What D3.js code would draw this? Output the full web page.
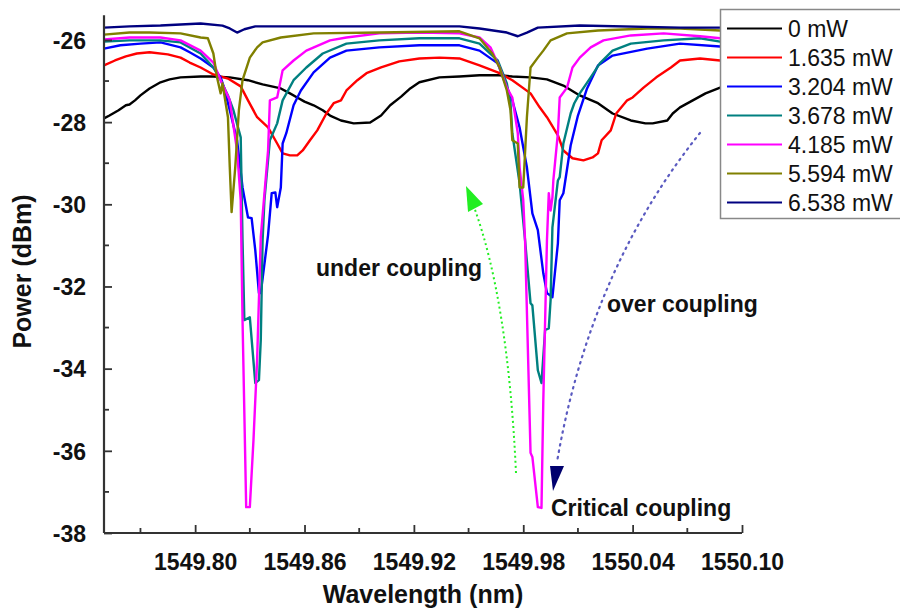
<!DOCTYPE html>
<html><head><meta charset="utf-8">
<script src="https://cdn.jsdelivr.net/npm/d3@7"></script>
<style>
body{margin:0;background:#fff}
svg{display:block}
text{font-family:"Liberation Sans",Arial,Helvetica,sans-serif}
</style>
</head><body>
<svg id="chart" width="900" height="612"></svg>
<script>
// ---------- data ----------
const seriesLabels = ["0 mW","1.635 mW","3.204 mW","3.678 mW","4.185 mW","5.594 mW","6.538 mW"];
const seriesColors = ["#000000","#ff0000","#0000ff","#008080","#ff00ff","#808000","#000080"];

const p0mW = [[1549.750,-27.91],[1549.753,-27.84],[1549.758,-27.71],[1549.762,-27.59],[1549.764,-27.57],[1549.767,-27.47],[1549.770,-27.35],[1549.775,-27.18],[1549.781,-27.03],[1549.786,-26.96],[1549.792,-26.91],[1549.803,-26.89],[1549.810,-26.89],[1549.819,-26.91],[1549.829,-26.98],[1549.837,-27.08],[1549.847,-27.18],[1549.852,-27.30],[1549.856,-27.40],[1549.860,-27.50],[1549.865,-27.59],[1549.870,-27.71],[1549.874,-27.84],[1549.880,-27.96],[1549.887,-28.03],[1549.896,-28.01],[1549.902,-27.84],[1549.907,-27.59],[1549.913,-27.38],[1549.918,-27.18],[1549.923,-27.03],[1549.934,-26.91],[1549.945,-26.89],[1549.956,-26.86],[1549.967,-26.86],[1549.974,-26.89],[1549.984,-26.91],[1549.993,-26.96],[1550.002,-27.11],[1550.011,-27.35],[1550.021,-27.54],[1550.029,-27.79],[1550.039,-27.96],[1550.047,-28.03],[1550.051,-28.03],[1550.059,-27.96],[1550.062,-27.79],[1550.066,-27.64],[1550.073,-27.47],[1550.080,-27.30],[1550.088,-27.16],[1550.100,-26.99]];

const p1635 = [[1549.750,-26.62],[1549.756,-26.50],[1549.762,-26.40],[1549.768,-26.33],[1549.775,-26.30],[1549.785,-26.35],[1549.792,-26.43],[1549.797,-26.55],[1549.803,-26.67],[1549.810,-26.84],[1549.818,-26.94],[1549.825,-27.13],[1549.829,-27.47],[1549.834,-27.88],[1549.840,-28.13],[1549.845,-28.52],[1549.848,-28.76],[1549.852,-28.81],[1549.856,-28.81],[1549.859,-28.69],[1549.863,-28.44],[1549.867,-28.20],[1549.872,-27.79],[1549.876,-27.54],[1549.880,-27.47],[1549.883,-27.23],[1549.889,-26.98],[1549.894,-26.81],[1549.902,-26.67],[1549.912,-26.52],[1549.923,-26.45],[1549.934,-26.43],[1549.945,-26.45],[1549.956,-26.62],[1549.966,-26.79],[1549.974,-26.98],[1549.984,-27.30],[1549.989,-27.64],[1549.993,-27.88],[1549.999,-28.32],[1550.002,-28.69],[1550.007,-28.88],[1550.013,-28.93],[1550.018,-28.86],[1550.021,-28.76],[1550.023,-28.44],[1550.028,-28.20],[1550.031,-27.79],[1550.037,-27.47],[1550.040,-27.40],[1550.046,-27.16],[1550.053,-26.91],[1550.061,-26.67],[1550.066,-26.50],[1550.077,-26.45],[1550.088,-26.50],[1550.100,-26.55]];

const p3204 = [[1549.750,-26.21],[1549.759,-26.13],[1549.770,-26.09],[1549.781,-26.06],[1549.792,-26.18],[1549.797,-26.30],[1549.803,-26.45],[1549.810,-26.67],[1549.814,-26.91],[1549.816,-27.18],[1549.819,-27.71],[1549.823,-28.44],[1549.826,-29.59],[1549.829,-30.32],[1549.831,-30.34],[1549.833,-31.12],[1549.835,-32.16],[1549.836,-32.16],[1549.840,-30.75],[1549.842,-29.73],[1549.844,-29.71],[1549.845,-30.07],[1549.847,-29.59],[1549.848,-28.52],[1549.850,-28.27],[1549.854,-27.59],[1549.858,-27.23],[1549.865,-26.79],[1549.874,-26.43],[1549.883,-26.26],[1549.901,-26.18],[1549.923,-26.13],[1549.945,-26.13],[1549.956,-26.26],[1549.966,-26.57],[1549.971,-27.16],[1549.974,-27.47],[1549.978,-28.13],[1549.982,-29.10],[1549.985,-30.22],[1549.988,-30.63],[1549.991,-31.68],[1549.993,-32.16],[1549.996,-32.26],[1549.999,-30.95],[1550.000,-29.90],[1550.002,-29.73],[1550.006,-28.57],[1550.010,-27.84],[1550.015,-27.18],[1550.021,-26.62],[1550.029,-26.38],[1550.048,-26.21],[1550.066,-26.09],[1550.088,-26.16],[1550.100,-26.18]];

const p3678 = [[1549.750,-26.04],[1549.764,-26.01],[1549.781,-26.01],[1549.792,-26.06],[1549.803,-26.33],[1549.810,-26.67],[1549.814,-26.98],[1549.818,-27.35],[1549.821,-27.71],[1549.825,-28.37],[1549.826,-30.88],[1549.827,-32.82],[1549.830,-32.75],[1549.833,-34.35],[1549.835,-34.28],[1549.836,-33.31],[1549.837,-30.88],[1549.838,-29.90],[1549.841,-28.44],[1549.845,-28.03],[1549.848,-27.47],[1549.854,-26.98],[1549.861,-26.67],[1549.870,-26.33],[1549.883,-26.09],[1549.901,-26.01],[1549.923,-25.96],[1549.945,-25.96],[1549.956,-26.09],[1549.966,-26.50],[1549.971,-27.06],[1549.973,-27.54],[1549.974,-28.27],[1549.978,-29.49],[1549.981,-30.88],[1549.984,-32.41],[1549.985,-32.46],[1549.988,-34.04],[1549.990,-34.35],[1549.992,-33.06],[1549.994,-33.02],[1549.995,-32.33],[1549.996,-30.56],[1549.999,-29.42],[1550.000,-29.34],[1550.002,-28.52],[1550.006,-27.79],[1550.008,-27.54],[1550.011,-27.30],[1550.017,-26.91],[1550.022,-26.57],[1550.029,-26.26],[1550.039,-26.09],[1550.057,-26.01],[1550.077,-25.96],[1550.088,-26.04],[1550.100,-26.04]];

const p4185 = [[1549.750,-25.99],[1549.764,-25.94],[1549.781,-25.94],[1549.792,-26.01],[1549.803,-26.26],[1549.810,-26.55],[1549.814,-26.98],[1549.819,-27.47],[1549.823,-28.69],[1549.825,-29.90],[1549.826,-32.82],[1549.828,-37.37],[1549.830,-37.37],[1549.832,-35.74],[1549.834,-33.79],[1549.836,-30.80],[1549.840,-28.69],[1549.841,-27.47],[1549.845,-27.40],[1549.848,-26.74],[1549.854,-26.50],[1549.861,-26.26],[1549.874,-26.01],[1549.883,-25.94],[1549.901,-25.84],[1549.923,-25.82],[1549.945,-25.84],[1549.956,-25.94],[1549.962,-26.18],[1549.967,-26.67],[1549.971,-27.16],[1549.974,-27.40],[1549.977,-28.27],[1549.978,-29.10],[1549.980,-29.90],[1549.981,-30.88],[1549.984,-36.05],[1549.985,-36.15],[1549.988,-37.37],[1549.990,-37.39],[1549.991,-34.77],[1549.993,-30.88],[1549.994,-29.73],[1549.995,-30.15],[1549.996,-29.83],[1549.9965,-29.42],[1549.999,-28.27],[1550.000,-27.40],[1550.004,-27.16],[1550.007,-26.67],[1550.011,-26.43],[1550.017,-26.18],[1550.024,-26.01],[1550.039,-25.89],[1550.057,-25.84],[1550.077,-25.91],[1550.088,-25.96],[1550.100,-25.96]];

const p5594 = [[1549.750,-25.87],[1549.764,-25.82],[1549.775,-25.82],[1549.792,-25.84],[1549.803,-25.94],[1549.807,-25.96],[1549.810,-26.33],[1549.812,-26.91],[1549.814,-27.30],[1549.815,-27.06],[1549.818,-27.88],[1549.819,-29.10],[1549.820,-30.19],[1549.822,-29.10],[1549.824,-27.71],[1549.826,-26.98],[1549.830,-26.43],[1549.834,-26.18],[1549.837,-26.06],[1549.847,-25.94],[1549.865,-25.84],[1549.901,-25.82],[1549.945,-25.79],[1549.956,-25.96],[1549.963,-26.33],[1549.967,-26.67],[1549.971,-27.23],[1549.973,-27.71],[1549.974,-28.44],[1549.977,-28.52],[1549.978,-29.59],[1549.980,-29.59],[1549.982,-27.88],[1549.984,-26.67],[1549.988,-26.43],[1549.991,-26.26],[1549.995,-26.01],[1550.004,-25.84],[1550.021,-25.77],[1550.048,-25.72],[1550.066,-25.72],[1550.088,-25.77],[1550.100,-25.77]];

const p6538 = [[1549.750,-25.70],[1549.764,-25.67],[1549.781,-25.65],[1549.803,-25.60],[1549.815,-25.65],[1549.819,-25.72],[1549.823,-25.82],[1549.827,-25.74],[1549.833,-25.67],[1549.858,-25.67],[1549.901,-25.67],[1549.945,-25.67],[1549.956,-25.72],[1549.971,-25.82],[1549.977,-25.91],[1549.982,-25.82],[1549.988,-25.70],[1550.011,-25.65],[1550.066,-25.70],[1550.100,-25.70]];

const allSeries = [p0mW, p1635, p3204, p3678, p4185, p5594, p6538];

const xMajorTicks = [1549.80, 1549.86, 1549.92, 1549.98, 1550.04, 1550.10];
const xMinorTicks = [1549.77, 1549.83, 1549.89, 1549.95, 1550.01, 1550.07];
const yMajorTicks = [-38, -36, -34, -32, -30, -28, -26];
const yMinorTicks = [-37, -35, -33, -31, -29, -27];

// ---------- drawing ----------
const svg = d3.select("#chart");
const x = d3.scaleLinear().domain([1549.75, 1550.10]).range([104, 742]);
const y = d3.scaleLinear().domain([-38, -25.4]).range([533, 15.3]);

const plot = svg.append("g");
const line = d3.line().x(d => x(d[0])).y(d => y(d[1]));

allSeries.forEach((s, i) => {
  plot.append("path").datum(s)
    .attr("d", line)
    .attr("fill", "none")
    .attr("stroke", seriesColors[i])
    .attr("stroke-width", 2.4)
    .attr("stroke-linejoin", "round");
});

// axes
const axisColor = "#333";
const xAxis = svg.append("g").attr("transform", "translate(0,533)");
xAxis.call(d3.axisBottom(x).tickValues(xMajorTicks).tickSize(-8).tickPadding(12).tickFormat(d3.format(".2f")));
xAxis.append("g").selectAll("line").data(xMinorTicks).join("line")
  .attr("x1", d => x(d)).attr("x2", d => x(d)).attr("y1", 0).attr("y2", -5);
const yAxis = svg.append("g").attr("transform", "translate(104,0)");
yAxis.call(d3.axisLeft(y).tickValues(yMajorTicks).tickSize(-8).tickPadding(18).tickFormat(d => String(d)));
yAxis.append("g").selectAll("line").data(yMinorTicks).join("line")
  .attr("x1", 0).attr("x2", 5).attr("y1", d => y(d)).attr("y2", d => y(d));

[xAxis, yAxis].forEach(a => {
  a.selectAll("line").attr("stroke", axisColor).attr("stroke-width", 1.8);
  a.selectAll("text").attr("font-size", 23).attr("font-weight", "bold").attr("fill", "#111")
    .attr("font-family", "'Liberation Sans', Arial, sans-serif");
});
xAxis.select(".domain").attr("stroke", axisColor).attr("stroke-width", 2.2).attr("d", "M104,0H742");
yAxis.select(".domain").attr("stroke", axisColor).attr("stroke-width", 2.2).attr("d", "M0,15.3V533");
xAxis.selectAll(".tick text").attr("y", 37).attr("dy", 0);
yAxis.selectAll(".tick text").attr("dy", "0.36em");

// axis titles
svg.append("text").attr("x", 423).attr("y", 603).attr("text-anchor", "middle")
  .attr("font-size", 25).attr("font-weight", "bold").attr("fill", "#111").text("Wavelength (nm)");
svg.append("text").attr("transform", "translate(31,271.5) rotate(-90)").attr("text-anchor", "middle")
  .attr("font-size", 25).attr("font-weight", "bold").attr("fill", "#111").text("Power (dBm)");

// annotations
const ann = svg.append("g").attr("font-size", 23).attr("font-weight", "bold").attr("fill", "#111");
ann.append("text").attr("x", 316).attr("y", 276).text("under coupling");
ann.append("text").attr("x", 607).attr("y", 312).text("over coupling");
ann.append("text").attr("x", 551).attr("y", 516).text("Critical coupling");

// green arrow (under coupling)
svg.append("path").attr("d", "M516,473 Q508,300 474,207")
  .attr("fill", "none").attr("stroke", "#22ee22").attr("stroke-width", 2)
  .attr("stroke-dasharray", "2,3");
svg.append("path").attr("d", "M466,186 L483,204 L468,212 Z").attr("fill", "#22ee22");

// blue arrow (over coupling)
svg.append("path").attr("d", "M700,133 Q590,270 557,462")
  .attr("fill", "none").attr("stroke", "#5a5ac0").attr("stroke-width", 2.2)
  .attr("stroke-dasharray", "1.5,5").attr("stroke-linecap", "round");
svg.append("path").attr("d", "M550,466 L564,466 L553,491 Z").attr("fill", "#00006e");

// legend
const lg = svg.append("g");
lg.append("rect").attr("x", 720.5).attr("y", 9.5).attr("width", 200).attr("height", 209)
  .attr("fill", "#fff").attr("stroke", "#888").attr("stroke-width", 1.5);
seriesLabels.forEach((lab, i) => {
  const yy = 28.5 + i * 29;
  lg.append("line").attr("x1", 727).attr("x2", 782).attr("y1", yy).attr("y2", yy)
    .attr("stroke", seriesColors[i]).attr("stroke-width", 2.2);
  lg.append("text").attr("x", 788).attr("y", yy + 8.5).attr("font-size", 23)
    .attr("fill", "#111").text(lab);
});
</script>
</body></html>
